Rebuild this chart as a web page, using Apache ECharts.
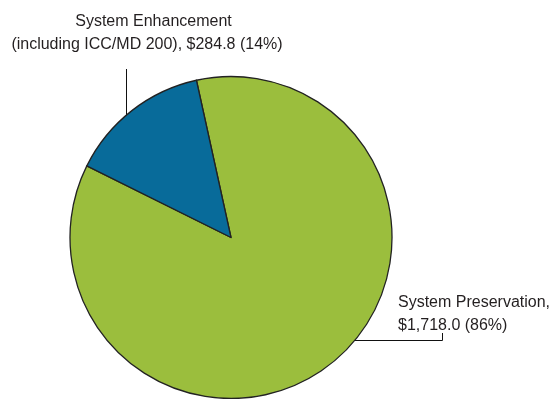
<!DOCTYPE html>
<html>
<head>
<meta charset="utf-8">
<script src="https://cdn.jsdelivr.net/npm/echarts@6/dist/echarts.min.js"></script>
<style>
  html, body { margin: 0; padding: 0; background: #ffffff; }
  #chart { width: 552px; height: 399px; }
</style>
</head>
<body>
<div id="chart"></div>
<script>
// Budget split, millions of dollars
const categories = ['System Preservation,', 'System Enhancement'];
const subtitles = ['', '(including ICC/MD 200), '];
const values = [1718.0, 284.8];
const percents = [86, 14];
const colors = ['#9bbe3d', '#086b9a'];

function money(v) {
  return '$' + v.toLocaleString('en-US', { minimumFractionDigits: 1, maximumFractionDigits: 1 });
}

const data = categories.map((name, i) => ({
  name: name,
  value: values[i],
  itemStyle: { color: colors[i] }
}));

const FONT = 'Liberation Sans, Arial, sans-serif';
const chart = echarts.init(document.getElementById('chart'), null, { renderer: 'canvas' });

chart.setOption({
  animation: false,
  series: [{
    type: 'pie',
    center: [231, 237.5],
    radius: 161,
    startAngle: 102.4,
    clockwise: true,
    avoidLabelOverlap: false,
    itemStyle: { borderColor: '#222', borderWidth: 1.3 },
    emphasis: { disabled: true },
    label: {
      show: true,
      color: '#231f20',
      fontFamily: FONT,
      fontSize: 16,
      lineHeight: 23,
      formatter: function (p) {
        const i = p.dataIndex;
        if (i === 0) {
          return '{a|' + categories[0] + '}\n{a|' + money(values[0]) + ' (' + percents[0] + '%)}';
        }
        return '{b|' + categories[1] + '}\n{a|' + subtitles[1] + money(values[1]) + ' (' + percents[1] + '%)}';
      },
      rich: {
        a: { fontSize: 16, lineHeight: 23, color: '#231f20', fontFamily: FONT },
        b: { fontSize: 16, lineHeight: 23, color: '#231f20', fontFamily: FONT, padding: [0, 0, 0, 13] }
      }
    },
    labelLine: {
      show: true,
      lineStyle: { color: '#111', width: 1 }
    },
    labelLayout: function (params) {
      if (params.dataIndex === 0) {
        return {
          x: 398, y: 291, align: 'left', verticalAlign: 'top',
          labelLinePoints: [[354, 340.5], [442.5, 340.5], [442.5, 333]]
        };
      }
      return {
        x: 147, y: 10, align: 'center', verticalAlign: 'top',
        labelLinePoints: [[126.5, 115], [126.5, 92], [126.5, 69]]
      };
    },
    data: data
  }]
});
</script>
</body>
</html>
